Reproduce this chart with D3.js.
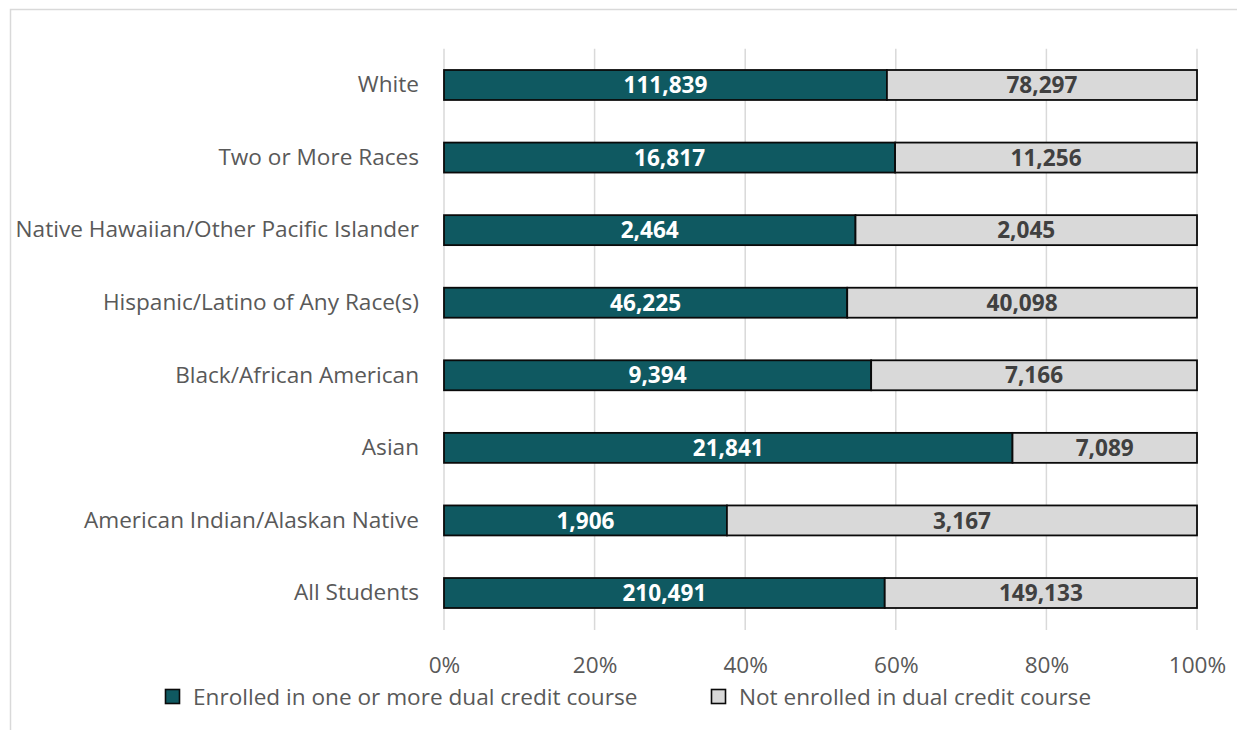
<!DOCTYPE html>
<html><head><meta charset="utf-8">
<script src="https://cdn.jsdelivr.net/npm/d3@7/dist/d3.min.js"></script>
<style>
html,body{margin:0;padding:0;background:#fff;}
svg{display:block;font-family:"Open Sans","Noto Sans",sans-serif;}
</style></head>
<body><svg id="c" width="1237" height="730"></svg>
<script>
const categories = ["White","Two or More Races","Native Hawaiian/Other Pacific Islander","Hispanic/Latino of Any Race(s)","Black/African American","Asian","American Indian/Alaskan Native","All Students"];
const enrolled = [111839,16817,2464,46225,9394,21841,1906,210491];
const notEnrolled = [78297,11256,2045,40098,7166,7089,3167,149133];
const seriesNames = ["Enrolled in one or more dual credit course","Not enrolled in dual credit course"];
const tickValues = [0,0.2,0.4,0.6,0.8,1];

const colors = ["#0f5961","#d9d9d9"];
const labelColors = ["#ffffff","#404040"];
const FS = 22.6;

const svg = d3.select("#c");
// outer border
svg.append("path").attr("d","M10.5,730 V9.5 H1237").attr("fill","none").attr("stroke","#d9d9d9").attr("stroke-width",1.5);

const x = d3.scaleLinear().domain([0,1]).range([444,1197]);
const y = d3.scaleBand().domain(categories).range([48.7,629.3]).paddingInner(0.587).paddingOuter(0.2935);

// gridlines
svg.append("g").selectAll("line").data(tickValues).join("line")
  .attr("x1",d=>x(d)).attr("x2",d=>x(d)).attr("y1",48.7).attr("y2",630)
  .attr("stroke","#d9d9d9").attr("stroke-width",1.5);

// x axis tick labels
const xAxis = d3.axisBottom(x).tickValues(tickValues).tickFormat(d3.format(".0%")).tickSize(0).tickPadding(0);
const gx = svg.append("g").attr("transform","translate(0,656.5)").call(xAxis);
gx.select(".domain").remove();
gx.selectAll("text").attr("font-size",FS).attr("fill","#595959").attr("font-family","'Open Sans','Noto Sans',sans-serif");

// y axis labels
const yAxis = d3.axisLeft(y).tickSize(0).tickPadding(0);
const gy = svg.append("g").attr("transform","translate(419,0)").call(yAxis);
gy.select(".domain").remove();
gy.selectAll("text").attr("font-size",FS).attr("fill","#595959").attr("font-family","'Open Sans','Noto Sans',sans-serif");

const rows = categories.map((c,i)=>{
  const t = enrolled[i]+notEnrolled[i];
  return {cat:c, segs:[{s:0,x0:0,x1:enrolled[i]/t,v:enrolled[i]},{s:1,x0:enrolled[i]/t,x1:1,v:notEnrolled[i]}]};
});

const g = svg.append("g");
rows.forEach(r=>{
  r.segs.forEach(sg=>{
    g.append("rect").attr("x",x(sg.x0)).attr("y",y(r.cat)).attr("width",x(sg.x1)-x(sg.x0)).attr("height",y.bandwidth())
      .attr("fill",colors[sg.s]).attr("stroke","#0a0a0a").attr("stroke-width",1.8);
    g.append("text").attr("x",(x(sg.x0)+x(sg.x1))/2).attr("y",y(r.cat)+y.bandwidth()/2).attr("dy","0.36em")
      .attr("text-anchor","middle").attr("font-size",FS).attr("font-weight","bold").attr("fill",labelColors[sg.s])
      .text(d3.format(",")(sg.v));
  });
});

// legend
const legendX = [165,711];
const lg = svg.append("g");
seriesNames.forEach((n,i)=>{
  lg.append("rect").attr("x",legendX[i]+0.5).attr("y",689.5).attr("width",14).attr("height",14)
    .attr("fill",colors[i]).attr("stroke","#0a0a0a").attr("stroke-width",1.6);
  lg.append("text").attr("x",legendX[i]+28).attr("y",697).attr("dy","0.36em").attr("font-size",FS).attr("fill","#595959").text(n);
});
</script></body></html>
